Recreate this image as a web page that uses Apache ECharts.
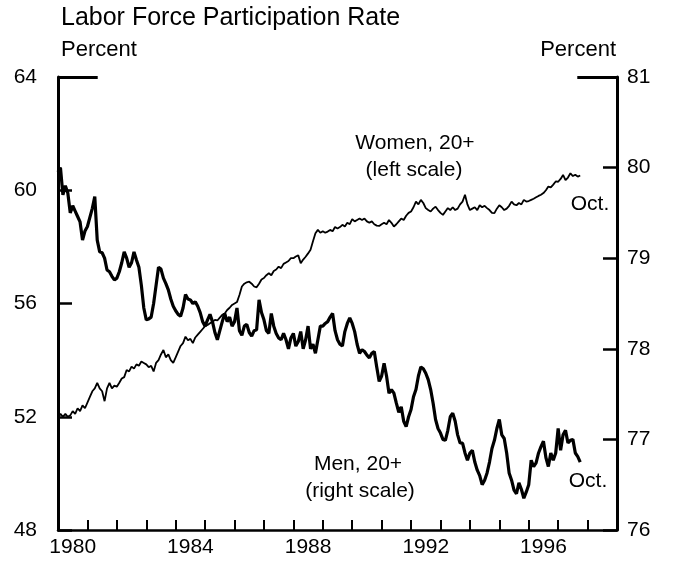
<!DOCTYPE html>
<html><head><meta charset="utf-8">
<script src="https://cdn.jsdelivr.net/npm/echarts@6/dist/echarts.min.js"></script>
<style>html,body{margin:0;padding:0;background:#fff}#c{width:683px;height:563px}</style>
</head><body><div id="c"></div>
<script>
const startYear = 1980;
const yearLabels = ['1980','1981','1982','1983','1984','1985','1986','1987','1988','1989','1990','1991','1992','1993','1994','1995','1996','1997','1998'];
const leftTicks = [48, 52, 56, 60, 64];
const rightTicks = [76, 77, 78, 79, 80, 81];

// Men, 20+ (right scale), monthly Jan 1980 - Oct 1997
const men = [
79.95,80.0,79.7,79.8,79.72,79.5,79.58,79.52,79.46,79.4,79.2,79.3,
79.35,79.45,79.55,79.68,79.2,79.07,79.06,79.0,78.87,78.85,78.8,78.76,
78.78,78.85,78.95,79.07,79.0,78.9,78.95,79.07,78.98,78.9,78.7,78.45,
78.32,78.33,78.35,78.5,78.7,78.9,78.88,78.78,78.72,78.65,78.55,78.47,
78.42,78.38,78.36,78.45,78.6,78.55,78.54,78.5,78.52,78.47,78.4,78.3,
78.25,78.32,78.38,78.3,78.18,78.1,78.2,78.3,78.39,78.3,78.35,78.25,
78.3,78.45,78.2,78.15,78.25,78.27,78.18,78.14,78.2,78.21,78.54,78.4,
78.32,78.2,78.17,78.39,78.25,78.17,78.12,78.1,78.17,78.1,78.0,78.12,
78.17,78.03,78.08,78.19,78.0,78.1,78.25,78.0,78.05,77.95,78.1,78.25,
78.25,78.28,78.3,78.35,78.39,78.2,78.1,78.05,78.03,78.19,78.28,78.34,
78.28,78.19,78.05,77.95,77.99,77.97,77.93,77.9,77.95,77.97,77.8,77.64,
77.7,77.84,77.7,77.51,77.55,77.51,77.4,77.3,77.36,77.2,77.14,77.25,
77.33,77.47,77.55,77.7,77.8,77.78,77.73,77.66,77.55,77.4,77.22,77.12,
77.07,77.0,76.99,77.1,77.25,77.29,77.2,77.05,76.96,76.96,76.85,76.77,
76.85,76.88,76.75,76.66,76.6,76.5,76.55,76.63,76.75,76.9,76.99,77.12,
77.22,77.05,77.01,76.85,76.63,76.55,76.44,76.4,76.52,76.45,76.35,76.42,
76.5,76.77,76.7,76.74,76.85,76.92,76.98,76.8,76.7,76.85,76.77,76.85,
77.12,76.88,77.05,77.1,76.96,76.99,77.0,76.85,76.81,76.75
];

// Women, 20+ (left scale), monthly Jan 1980 - Oct 1997
const women = [
52.0,52.1,52.0,52.1,52.0,52.05,52.2,52.1,52.3,52.2,52.4,52.3,
52.5,52.7,52.9,53.0,53.2,53.0,52.9,52.55,53.0,53.2,53.0,53.1,
53.06,53.2,53.35,53.4,53.65,53.6,53.77,53.7,53.85,53.8,53.95,53.9,
53.85,53.75,53.8,53.6,53.9,54.0,54.2,54.36,54.1,54.2,54.0,53.9,
54.1,54.3,54.5,54.6,54.83,54.7,54.75,54.6,54.8,54.9,55.0,55.1,
55.2,55.24,55.3,55.35,55.42,55.4,55.5,55.6,55.65,55.77,55.85,55.95,
56.0,56.05,56.3,56.6,56.7,56.75,56.77,56.7,56.6,56.57,56.7,56.85,
56.9,57.0,57.07,57.0,57.15,57.2,57.3,57.25,57.4,57.45,57.5,57.6,
57.6,57.66,57.7,57.42,57.55,57.65,57.77,57.9,58.2,58.48,58.6,58.5,
58.55,58.5,58.54,58.6,58.55,58.7,58.65,58.7,58.78,58.72,58.85,58.8,
58.98,58.9,58.95,59.0,58.95,59.0,58.9,58.85,58.9,58.8,58.75,58.74,
58.8,58.85,58.8,58.95,58.85,58.72,58.8,58.9,59.0,58.95,59.1,59.2,
59.25,59.4,59.6,59.5,59.66,59.55,59.37,59.3,59.25,59.35,59.42,59.3,
59.2,59.13,59.25,59.37,59.3,59.4,59.3,59.35,59.5,59.6,59.84,59.5,
59.3,59.35,59.4,59.3,59.47,59.4,59.45,59.37,59.3,59.2,59.19,59.35,
59.47,59.4,59.3,59.35,59.45,59.6,59.5,59.47,59.55,59.5,59.66,59.6,
59.62,59.66,59.7,59.75,59.8,59.84,59.9,60.0,60.13,60.1,60.2,60.31,
60.3,60.4,60.54,60.36,60.45,60.6,60.5,60.55,60.48,60.52
];

const FONT = '"Liberation Sans", Arial, Helvetica, sans-serif';
const toPairs = arr => arr.map((v, i) => [startYear + i / 12, v]);

const chart = echarts.init(document.getElementById('c'), null, {renderer: 'canvas'});
const axisLineStyle = {color: '#000', width: 3};
chart.setOption({
  animation: false,
  backgroundColor: '#fff',
  grid: {left: 58, right: 66, top: 77, bottom: 33, containLabel: false},
  xAxis: [
    {type: 'value', min: startYear, max: startYear + yearLabels.length, show: false},
    {type: 'category', data: yearLabels, boundaryGap: true, position: 'bottom',
     axisLine: {show: true, lineStyle: {color: '#000', width: 2.5}},
     axisTick: {show: true, inside: true, length: 10, interval: 0, lineStyle: {color: '#000', width: 2}},
     axisLabel: {interval: 3, color: '#000', fontSize: 21, fontFamily: FONT, margin: 7},
     splitLine: {show: false}}
  ],
  yAxis: [
    {type: 'value', min: leftTicks[0], max: leftTicks[leftTicks.length - 1], interval: 4, position: 'left',
     axisLine: {show: true, lineStyle: axisLineStyle},
     axisTick: {show: true, inside: true, length: 14, lineStyle: {color: '#000', width: 2.5}},
     axisLabel: {color: '#000', fontSize: 21, fontFamily: FONT, margin: 21},
     splitLine: {show: false}},
    {type: 'value', min: rightTicks[0], max: rightTicks[rightTicks.length - 1], interval: 1, position: 'right',
     axisLine: {show: true, lineStyle: axisLineStyle},
     axisTick: {show: true, inside: true, length: 14, lineStyle: {color: '#000', width: 2.5}},
     axisLabel: {color: '#000', fontSize: 21, fontFamily: FONT, margin: 10},
     splitLine: {show: false}}
  ],
  series: [
    {name: 'Women, 20+', type: 'line', xAxisIndex: 0, yAxisIndex: 0, data: toPairs(women),
     showSymbol: false, lineStyle: {color: '#000', width: 1.8}, z: 3,
     markLine: {symbol: 'none', silent: true, label: {show: false},
       lineStyle: {color: '#000', width: 3, type: 'solid'},
       data: [[{coord: [1980, 64]}, {coord: [1981.35, 64]}]]}},
    {name: 'Men, 20+', type: 'line', xAxisIndex: 0, yAxisIndex: 1, data: toPairs(men),
     showSymbol: false, lineStyle: {color: '#000', width: 3.2}, z: 4,
     markLine: {symbol: 'none', silent: true, label: {show: false},
       lineStyle: {color: '#000', width: 3, type: 'solid'},
       data: [[{coord: [1997.65, 81]}, {coord: [1999, 81]}]]}}
  ],
  graphic: [
    {type: 'text', left: 61, top: 6, style: {text: 'Labor Force Participation Rate', font: '25px ' + FONT, fill: '#000'}},
    {type: 'text', left: 61, top: 39, style: {text: 'Percent', font: '22px ' + FONT, fill: '#000'}},
    {type: 'text', right: 67, top: 39, style: {text: 'Percent', font: '22px ' + FONT, fill: '#000'}},
    {type: 'text', x: 415, y: 143, style: {text: 'Women, 20+', font: '21px ' + FONT, fill: '#000', align: 'center', verticalAlign: 'middle'}},
    {type: 'text', x: 414, y: 170, style: {text: '(left scale)', font: '21px ' + FONT, fill: '#000', align: 'center', verticalAlign: 'middle'}},
    {type: 'text', x: 590, y: 204, style: {text: 'Oct.', font: '21px ' + FONT, fill: '#000', align: 'center', verticalAlign: 'middle'}},
    {type: 'text', x: 358, y: 464, style: {text: 'Men, 20+', font: '21px ' + FONT, fill: '#000', align: 'center', verticalAlign: 'middle'}},
    {type: 'text', x: 360, y: 491, style: {text: '(right scale)', font: '21px ' + FONT, fill: '#000', align: 'center', verticalAlign: 'middle'}},
    {type: 'text', x: 588, y: 481, style: {text: 'Oct.', font: '21px ' + FONT, fill: '#000', align: 'center', verticalAlign: 'middle'}}
  ]
});
</script></body></html>
